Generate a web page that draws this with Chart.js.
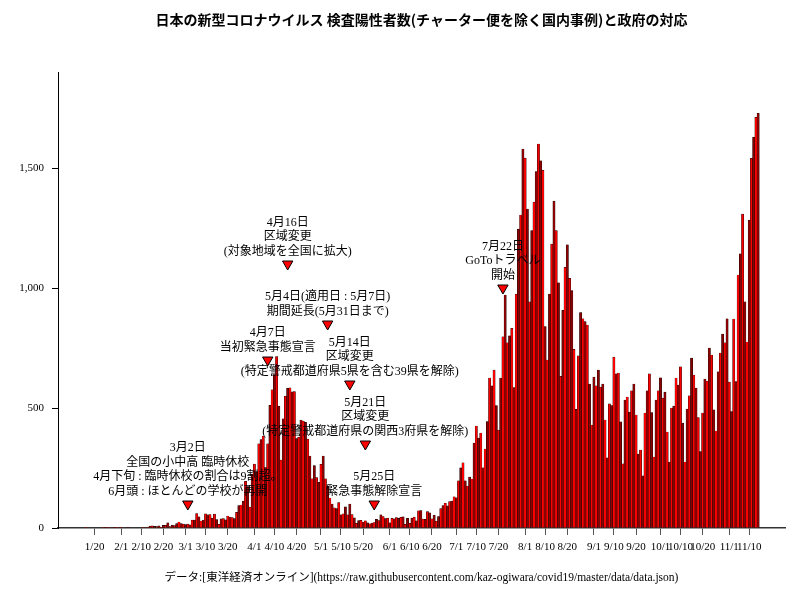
<!DOCTYPE html>
<html>
<head>
<meta charset="utf-8">
<script src="https://cdn.jsdelivr.net/npm/chart.js@4"></script>
<style>
  body { margin: 0; background: #fff; }
  #wrap { width: 800px; height: 600px; }
</style>
</head>
<body>
<div id="wrap"><canvas id="chart" width="800" height="600"></canvas></div>
<script>
// daily positive cases, 2020-01-16 .. 2020-11-14
const casesJan = [1, 0, 0, 0, 0, 0, 0, 0, 1, 1, 1, 0, 2, 1, 3, 2];
const casesFeb = [1, 0, 0, 1, 0, 0, 0, 0, 0, 0, 1, 0, 4, 8, 9, 7, 6, 9, 3, 11, 11, 22, 6, 12, 10, 18, 25, 18, 16];
const casesMar = [14, 16, 13, 33, 33, 60, 47, 29, 33, 59, 55, 56, 41, 58, 35, 15, 38, 39, 34, 50, 46, 43, 39, 65, 93, 96, 112, 194, 173, 87, 225];
const casesApr = [266, 235, 351, 368, 383, 252, 351, 511, 576, 639, 714, 507, 283, 455, 549, 582, 584, 567, 568, 373, 378, 450, 445, 440, 370, 300, 205, 260, 210, 190];
const casesMay = [265, 300, 205, 175, 125, 100, 84, 81, 106, 55, 59, 88, 55, 100, 56, 42, 19, 31, 32, 25, 30, 22, 17, 21, 23, 36, 31, 55, 48, 39, 41];
const casesJun = [22, 40, 38, 43, 40, 44, 47, 15, 40, 19, 41, 45, 30, 72, 73, 37, 36, 68, 63, 38, 53, 28, 48, 81, 93, 103, 92, 110, 112, 130];
const casesJul = [126, 197, 251, 272, 197, 175, 212, 204, 354, 425, 375, 396, 251, 329, 443, 625, 592, 658, 510, 408, 625, 797, 971, 772, 801, 832, 585, 974, 1245, 1304, 1579];
const casesAug = [1541, 1329, 942, 1239, 1358, 1485, 1600, 1530, 1490, 839, 700, 975, 1183, 1362, 1239, 1022, 632, 907, 1086, 1180, 1040, 989, 744, 494, 717, 898, 872, 860, 846, 600, 429];
const casesSep = [629, 592, 658, 587, 600, 450, 292, 517, 510, 712, 642, 646, 442, 267, 533, 546, 483, 572, 600, 471, 308, 325, 217, 479, 572, 642, 481, 296, 533, 572];
const casesOct = [626, 541, 566, 400, 275, 500, 508, 625, 596, 672, 437, 275, 496, 551, 708, 637, 583, 460, 318, 479, 621, 612, 750, 721, 492, 404, 651, 729, 808, 772, 872];
const casesNov = [608, 485, 871, 610, 1054, 1142, 1308, 942, 775, 1283, 1540, 1628, 1711, 1728];

const cases = [].concat(casesJan, casesFeb, casesMar, casesApr, casesMay, casesJun,
  casesJul, casesAug, casesSep, casesOct, casesNov);

const tickLabels = ['1/20', '2/1', '2/10', '2/20', '3/1', '3/10', '3/20', '4/1', '4/10', '4/20',
  '5/1', '5/10', '5/20', '6/1', '6/10', '6/20', '7/1', '7/10', '7/20', '8/1', '8/10', '8/20',
  '9/1', '9/10', '9/20', '10/1', '10/10', '10/20', '11/1', '11/10'];
const yTicks = [0, 500, 1000, 1500];

const eventDates = ['3/2', '4/7', '4/16', '5/4', '5/14', '5/21', '5/25', '7/22'];
const eventLevels = [100, 700, 1100, 850, 600, 350, 100, 1000];
const eventTexts = [
  ['3月2日', '全国の小中高 臨時休校', '4月下旬 : 臨時休校の割合は9割超。', '6月頭 : ほとんどの学校が再開'],
  ['4月7日', '当初緊急事態宣言'],
  ['4月16日', '区域変更', '(対象地域を全国に拡大)'],
  ['5月4日(適用日 : 5月7日)', '期間延長(5月31日まで)'],
  ['5月14日', '区域変更', '(特定警戒都道府県5県を含む39県を解除)'],
  ['5月21日', '区域変更', '(特定警戒都道府県の関西3府県を解除)'],
  ['5月25日', '緊急事態解除宣言'],
  ['7月22日', 'GoToトラベル', '開始'],
];

const titleText = '日本の新型コロナウイルス 検査陽性者数(チャーター便を除く国内事例)と政府の対応';
const footerText = 'データ:[東洋経済オンライン](https://raw.githubusercontent.com/kaz-ogiwara/covid19/master/data/data.json)';

// day labels like '1/16'
const labels = [];
for (let i = 0; i < cases.length; i++) {
  const d = new Date(2020, 0, 16 + i);
  labels.push((d.getMonth() + 1) + '/' + d.getDate());
}

const serif = '"Liberation Serif", "Noto Sans CJK JP", serif';

const textPlugin = {
  id: 'texts',
  afterDraw(chart) {
    const { ctx, chartArea } = chart;
    const x = chart.scales.x;
    const y = chart.scales.y;
    const cx = (chartArea.left + chartArea.right) / 2;
    ctx.save();
    ctx.fillStyle = '#000';
    ctx.textAlign = 'center';
    ctx.textBaseline = 'middle';
    ctx.font = 'bold 14px "Noto Sans CJK JP", sans-serif';
    ctx.fillText(titleText, cx, 20);
    ctx.font = '11.5px ' + serif;
    ctx.fillText(footerText, cx, 578);
    ctx.font = '12px ' + serif;
    eventDates.forEach((d, i) => {
      const px = x.getPixelForValue(labels.indexOf(d));
      const py = y.getPixelForValue(eventLevels[i]);
      const lines = eventTexts[i];
      lines.forEach((t, j) => {
        ctx.fillText(t, px, py - 12 - (lines.length - 1 - j) * 14.7);
      });
    });
    ctx.restore();
  },
};

new Chart(document.getElementById('chart'), {
  type: 'bar',
  data: {
    datasets: [
      {
        type: 'bar',
        data: cases.map((v, i) => ({ x: i, y: v })),
        backgroundColor: cases.map((v, i) => (i % 2 === 0 ? '#ff0000' : '#8b0000')),
        borderColor: '#000',
        borderWidth: 0.4,
        barPercentage: 1,
        categoryPercentage: 1,
      },
      {
        type: 'scatter',
        data: eventDates.map((d, i) => ({ x: labels.indexOf(d), y: eventLevels[i] })),
        pointStyle: 'triangle',
        rotation: 180,
        radius: 6,
        backgroundColor: '#ff0000',
        borderColor: '#000',
        borderWidth: 1,
      },
    ],
  },
  options: {
    responsive: false,
    animation: false,
    layout: { padding: { top: 72, right: 15, left: 0, bottom: 0 } },
    plugins: {
      legend: { display: false },
      tooltip: { enabled: false },
    },
    scales: {
      x: {
        type: 'linear',
        offset: false,
        min: -12.5,
        max: 315.1,
        afterBuildTicks: (s) => {
          s.ticks = tickLabels.map((l) => ({ value: labels.indexOf(l) }));
        },
        afterFit: (s) => { s.height = 72; },
        ticks: {
          autoSkip: false,
          maxRotation: 0,
          padding: 6,
          color: '#000',
          font: { family: serif, size: 11 },
          callback: (v) => labels[v],
        },
        grid: { drawOnChartArea: false, tickLength: 7, color: '#555', offset: false },
        border: { display: true, color: '#333', width: 1.5 },
      },
      y: {
        min: 0,
        max: 1900,
        afterBuildTicks: (s) => {
          s.ticks = yTicks.map((v) => ({ value: v }));
        },
        afterFit: (s) => { s.width = 58; },
        ticks: {
          padding: 8,
          color: '#000',
          font: { family: serif, size: 11 },
          callback: (v) => v.toLocaleString('en-US'),
        },
        grid: { drawOnChartArea: false, tickLength: 6, color: '#000' },
        border: { display: true, color: '#000', width: 1 },
      },
    },
  },
  plugins: [textPlugin],
});
</script>
</body>
</html>
